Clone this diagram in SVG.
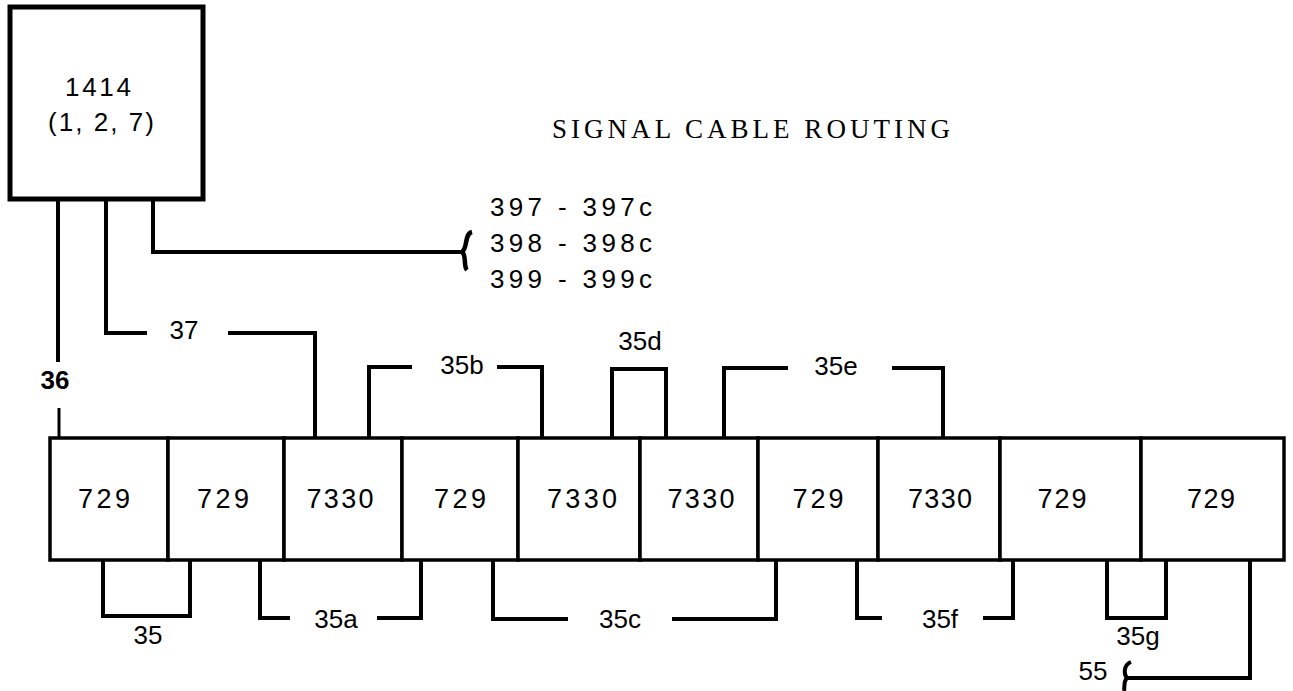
<svg xmlns="http://www.w3.org/2000/svg" width="1293" height="691" viewBox="0 0 1293 691">
<style>
.bg{fill:#fff}
.box{fill:#fff;stroke:#000;stroke-width:3.5}
.big{fill:#fff;stroke:#000;stroke-width:5}
.w{fill:none;stroke:#000;stroke-width:4;stroke-linejoin:miter;stroke-linecap:butt}
.t{font-family:"Liberation Sans",Arial,sans-serif;font-size:26px;fill:#000;text-anchor:middle}
.n{font-family:"Liberation Sans",Arial,sans-serif;font-size:27px;fill:#000;text-anchor:middle}
.title{font-family:"Liberation Serif","Times New Roman",serif;font-size:27px;fill:#000;text-anchor:middle}
</style>
<rect class="bg" x="0" y="0" width="1293" height="691"/>
<text class="title" x="751" y="138" textLength="398" lengthAdjust="spacing">SIGNAL CABLE ROUTING</text>
<g id="n1414">
<rect class="big" x="10" y="7" width="193" height="192"/>
<text class="t" x="98" y="96" textLength="66" lengthAdjust="spacing">1414</text>
<text class="t" x="101" y="131" textLength="106" lengthAdjust="spacing">(1, 2, 7)</text>
</g>
<g id="n397">
<text class="t" x="490" y="216" style="text-anchor:start" textLength="162" lengthAdjust="spacing">397 - 397c</text>
<text class="t" x="490" y="252" style="text-anchor:start" textLength="162" lengthAdjust="spacing">398 - 398c</text>
<text class="t" x="490" y="288" style="text-anchor:start" textLength="162" lengthAdjust="spacing">399 - 399c</text>
</g>
<g id="row">
<g id="b1"><rect class="box" x="50" y="438" width="118" height="122"/><text class="n" x="104" y="508" textLength="52" lengthAdjust="spacing">729</text></g>
<g id="b2"><rect class="box" x="168" y="438" width="116" height="122"/><text class="n" x="223" y="508" textLength="52" lengthAdjust="spacing">729</text></g>
<g id="b3"><rect class="box" x="284" y="438" width="118" height="122"/><text class="n" x="340" y="508" textLength="67" lengthAdjust="spacing">7330</text></g>
<g id="b4"><rect class="box" x="402" y="438" width="116" height="122"/><text class="n" x="460" y="508" textLength="52" lengthAdjust="spacing">729</text></g>
<g id="b5"><rect class="box" x="518" y="438" width="122" height="122"/><text class="n" x="582" y="508" textLength="70" lengthAdjust="spacing">7330</text></g>
<g id="b6"><rect class="box" x="640" y="438" width="118" height="122"/><text class="n" x="701" y="508" textLength="67" lengthAdjust="spacing">7330</text></g>
<g id="b7"><rect class="box" x="758" y="438" width="120" height="122"/><text class="n" x="818" y="508" textLength="51" lengthAdjust="spacing">729</text></g>
<g id="b8"><rect class="box" x="878" y="438" width="122" height="122"/><text class="n" x="940" y="508" textLength="64" lengthAdjust="spacing">7330</text></g>
<g id="b9"><rect class="box" x="1000" y="438" width="141" height="122"/><text class="n" x="1062" y="508" textLength="49" lengthAdjust="spacing">729</text></g>
<g id="b10"><rect class="box" x="1141" y="438" width="143" height="122"/><text class="n" x="1211" y="508" textLength="48" lengthAdjust="spacing">729</text></g>
</g>
<g id="connectors">
<path class="w" d="M58 199 V362"/>
<path class="w" d="M59 408 V437" style="stroke-width:3"/>
<text class="t" x="55" y="389" style="font-weight:bold">36</text>
<path class="w" d="M106 199 V333 H147"/>
<path class="w" d="M228 333 H315 V437"/>
<text class="t" x="184" y="339">37</text>
<path class="w" d="M153 199 V252 H463"/>
<path class="w" d="M472 232 C464 234 468 248 462 252 C467 256 463 266 467 270" style="stroke-width:4.5"/>
<path class="w" d="M412 367 H369 V437 M497 367 H542 V437"/>
<text class="t" x="462" y="374">35b</text>
<path class="w" d="M612 437 V369 H666 V437"/>
<text class="t" x="640" y="350">35d</text>
<path class="w" d="M788 368 H724 V437 M892 368 H943 V437"/>
<text class="t" x="836" y="375">35e</text>
<path class="w" d="M103 560 V616 H190 V560"/>
<text class="t" x="148" y="644">35</text>
<path class="w" d="M290 618 H260 V560 M377 618 H421 V560"/>
<text class="t" x="336" y="628">35a</text>
<path class="w" d="M568 619 H493 V560 M672 619 H776 V560"/>
<text class="t" x="620" y="628">35c</text>
<path class="w" d="M882 618 H857 V560 M983 618 H1013 V560"/>
<text class="t" x="940" y="628">35f</text>
<path class="w" d="M1107 560 V618 H1166 V560"/>
<text class="t" x="1138" y="645">35g</text>
<path class="w" d="M1250 560 V678 H1127"/>
<path class="w" d="M1131 662 C1123 665 1124 675 1127 678 C1123 682 1125 687 1124 691"/>
<text class="t" x="1093" y="680">55</text>
</g>
</svg>
